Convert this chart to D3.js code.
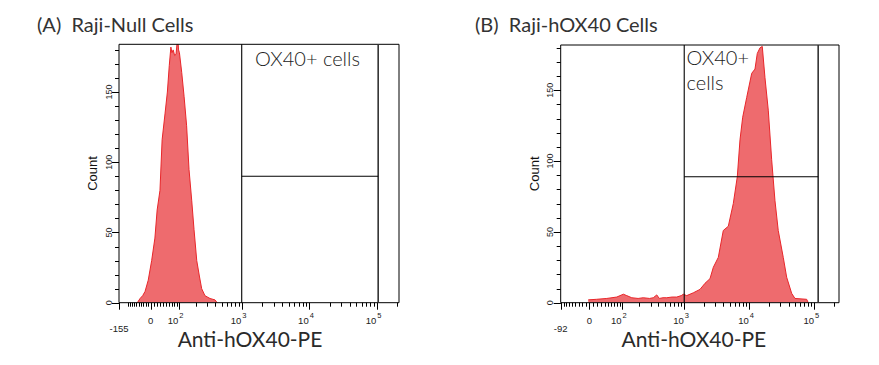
<!DOCTYPE html>
<html>
<head>
<meta charset="utf-8">
<script src="https://cdn.jsdelivr.net/npm/d3@7"></script>
<style>
  html, body { margin: 0; padding: 0; background: #fff; }
  svg { display: block; }
</style>
</head>
<body>
<svg id="chart" width="879" height="365"></svg>
<script>
// ---------------- DATA ----------------
const panelTitles = ["(A)  Raji-Null Cells", "(B)  Raji-hOX40 Cells"];
const xAxisTitle = "Anti-hOX40-PE";
const yAxisTitle = "Count";
const gateLabel = ["OX40+ cells", "OX40+|cells"];

// Raji-Null histogram: fluorescence intensity vs count
const nullIntensity = [-56, -44, -33, -23, -10, 3, 13, 20, 29, 36, 46, 54, 61, 67, 71, 76, 82, 88, 95, 99, 103, 114, 126, 140, 154, 171, 187, 207, 228, 248, 279, 334, 398, 430];
const nullCount     = [0, 3, 5, 8, 16, 30, 46, 66, 80, 116, 135, 150, 169, 182, 178, 180, 176, 177, 190, 180, 178, 164, 147, 126, 95, 73, 52, 30, 19, 10, 5, 3, 2, 0];

// Raji-hOX40 histogram: fluorescence intensity vs count
const hoxIntensity = [-3, 18, 46, 79, 106, 122, 149, 190, 230, 290, 332, 376, 412, 470, 537, 650, 766, 900, 969, 1093, 1381, 1749, 2086, 2490, 2800, 3340, 3984, 4757, 5673, 6539, 7189, 7910, 9114, 10878, 12215, 13244, 14574, 15806, 17381, 19530, 22022, 24752, 27790, 33180, 37422, 44660, 50190, 75880, 80290];
const hoxCount     = [2, 2.4, 3, 4, 6, 5, 3.5, 3, 3.5, 3, 3.5, 5.5, 3, 3.5, 3.5, 4, 4, 5, 6, 5, 7, 9.4, 13.7, 17, 25, 32, 51, 54, 70, 89, 115, 131, 145, 162, 165, 176, 180, 181, 159, 136, 101, 72, 51, 32, 18, 6.6, 3, 2.4, 0];

// x-axis labelled ticks (value, label base, exponent)
const xTickValuesA = [-155, 0, 100, 1000, 10000, 100000];
const xTickValuesB = [-92, 0, 100, 1000, 10000, 100000];
const xTickBases   = ["-155|-92", "0", "10", "10", "10", "10"];
const xTickExps    = ["", "", "2", "3", "4", "5"];
const yTickValues  = [0, 50, 100, 150];

// gates: lower / upper intensity bound and count threshold
const gateLow   = [1000, 1000];
const gateHigh  = [105000, 114000];
const gateCount = [90, 89];

// ---------------- LAYOUT ----------------
const panels = [
  { left: 119, right: 399, top: 44.3, bottom: 302.7, xMin: -155, xMax: 213500, kPos: 90, kNeg: 119, yMax: 184,
    xTicks: xTickValuesA, xs: nullIntensity, ys: nullCount, titleX: 37, gateTextX: 255, axisTitleShift: -9 },
  { left: 560.7, right: 839, top: 45, bottom: 302.7, xMin: -92, xMax: 238000, kPos: 70, kNeg: 77, yMax: 182,
    xTicks: xTickValuesB, xs: hoxIntensity, ys: hoxCount, titleX: 475, gateTextX: 686.5, axisTitleShift: -6 }
];

const svg = d3.select("#chart");
const tickFont = "'Liberation Sans', Arial, sans-serif";
const textFont = "Lato, 'Open Sans', sans-serif";

panels.forEach((p, i) => {
  const tr = v => v >= 0 ? Math.asinh(v / p.kPos) : -Math.asinh(-v / p.kNeg);
  const xs = d3.scaleLinear().domain([tr(p.xMin), tr(p.xMax)]).range([p.left, p.right]);
  const x = v => xs(tr(v));
  const y = d3.scaleLinear().domain([0, p.yMax]).range([p.bottom, p.top]);

  const g = svg.append("g");

  const clipId = "clip" + i;
  g.append("clipPath").attr("id", clipId).append("rect")
    .attr("x", p.left).attr("y", p.top).attr("width", p.right - p.left).attr("height", p.bottom - p.top);

  // histogram
  const pts = p.xs.map((v, j) => [v, p.ys[j]]);
  const area = d3.area().x(d => x(d[0])).y0(y(0)).y1(d => y(d[1]));
  const line = d3.line().x(d => x(d[0])).y(d => y(d[1]));
  const hg = g.append("g").attr("clip-path", `url(#${clipId})`);
  hg.append("path").attr("d", area(pts)).attr("fill", "#ee6b6e");
  hg.append("path").attr("d", line(pts)).attr("fill", "none").attr("stroke", "#e8262a").attr("stroke-width", 1);

  // frame
  g.append("path")
    .attr("d", `M${p.left},${p.bottom}V${p.top}H${p.right}V${p.bottom}Z`)
    .attr("fill", "none").attr("stroke", "#000").attr("stroke-width", 1);

  // gate
  const gx0 = x(gateLow[i]), gx1 = x(gateHigh[i]), gy = y(gateCount[i]);
  g.append("line").attr("x1", gx0).attr("x2", gx0).attr("y1", p.top).attr("y2", p.bottom)
    .attr("stroke", "#000").attr("stroke-width", 1.1);
  g.append("line").attr("x1", gx1).attr("x2", gx1).attr("y1", p.top).attr("y2", p.bottom)
    .attr("stroke", "#333").attr("stroke-width", 1.6);
  g.append("line").attr("x1", gx0).attr("x2", gx1).attr("y1", gy).attr("y2", gy)
    .attr("stroke", "#000").attr("stroke-width", 1.1);

  // x minor ticks
  const minor = [];
  [10, 100, 1000, 10000, 100000].forEach(dec => {
    for (let m = 1; m <= 9; m++) {
      if (m === 1 && dec >= 100) continue;
      minor.push(dec * m);
    }
  });
  [10, 20, 30, 40, 50, 60, 70, 80, 90, 100].forEach(v => minor.push(-v));
  const minorVals = minor.filter(v => v > p.xMin && v < p.xMax);
  g.selectAll(null).data(minorVals).enter().append("line")
    .attr("x1", d => Math.round(x(d)) + 0.5).attr("x2", d => Math.round(x(d)) + 0.5)
    .attr("y1", p.bottom).attr("y2", p.bottom + 4)
    .attr("stroke", "#000").attr("stroke-width", 1);
  g.selectAll(null).data(p.xTicks).enter().append("line")
    .attr("x1", d => Math.round(x(d)) + 0.5).attr("x2", d => Math.round(x(d)) + 0.5)
    .attr("y1", p.bottom).attr("y2", p.bottom + 7)
    .attr("stroke", "#000").attr("stroke-width", 1);

  // x tick labels
  p.xTicks.forEach((v, j) => {
    const tx = x(v);
    if (j === 0) {
      g.append("text").attr("x", tx).attr("y", p.bottom + 29.5)
        .attr("text-anchor", "middle").attr("font-family", tickFont).attr("font-size", 9.5)
        .attr("fill", "#222").text(xTickBases[0].split("|")[i]);
    } else if (xTickExps[j] === "") {
      g.append("text").attr("x", tx).attr("y", p.bottom + 21)
        .attr("text-anchor", "middle").attr("font-family", tickFont).attr("font-size", 9.5)
        .attr("fill", "#222").text(xTickBases[j]);
    } else {
      g.append("text").attr("x", tx - 0.5).attr("y", p.bottom + 21)
        .attr("text-anchor", "end").attr("font-family", tickFont).attr("font-size", 9.5)
        .attr("fill", "#222").text(xTickBases[j]);
      g.append("text").attr("x", tx + 0.5).attr("y", p.bottom + 15.5)
        .attr("text-anchor", "start").attr("font-family", tickFont).attr("font-size", 7.5)
        .attr("fill", "#222").text(xTickExps[j]);
    }
  });

  // y ticks
  const yMinor = d3.range(0, p.yMax, 10);
  g.selectAll(null).data(yMinor).enter().append("line")
    .attr("x1", p.left - 4).attr("x2", p.left)
    .attr("y1", d => Math.round(y(d)) + 0.5).attr("y2", d => Math.round(y(d)) + 0.5)
    .attr("stroke", "#000");
  g.selectAll(null).data(yTickValues).enter().append("line")
    .attr("x1", p.left - 7).attr("x2", p.left)
    .attr("y1", d => Math.round(y(d)) + 0.5).attr("y2", d => Math.round(y(d)) + 0.5)
    .attr("stroke", "#000");
  g.selectAll(null).data(yTickValues).enter().append("text")
    .attr("transform", d => `translate(${p.left - 7.5},${y(d)}) rotate(-90)`)
    .attr("text-anchor", "middle").attr("font-family", tickFont).attr("font-size", 9)
    .attr("fill", "#222").text(d => d);

  // y title
  g.append("text")
    .attr("transform", `translate(${p.left - 22},${(p.top + p.bottom) / 2}) rotate(-90)`)
    .attr("text-anchor", "middle").attr("font-family", tickFont).attr("font-size", 13)
    .attr("fill", "#111").text(yAxisTitle);

  // x title
  g.append("text")
    .attr("x", (p.left + p.right) / 2 + p.axisTitleShift).attr("y", p.bottom + 44)
    .attr("text-anchor", "middle").attr("font-family", textFont).attr("font-size", 21)
    .attr("fill", "#2a2a2a").text(xAxisTitle);

  // panel title
  g.append("text").attr("x", p.titleX).attr("y", 32)
    .attr("font-family", textFont).attr("font-size", 20)
    .attr("fill", "#333").style("white-space", "pre")
    .text(panelTitles[i]);

  // gate label
  const lines = gateLabel[i].split("|");
  lines.forEach((ln, k) => {
    g.append("text").attr("x", p.gateTextX).attr("y", (i === 0 ? 66 : 65) + k * 25)
      .attr("font-family", textFont).attr("font-weight", 300).attr("font-size", 20)
      .attr("fill", "#222").text(ln);
  });
});
</script>
</body>
</html>
